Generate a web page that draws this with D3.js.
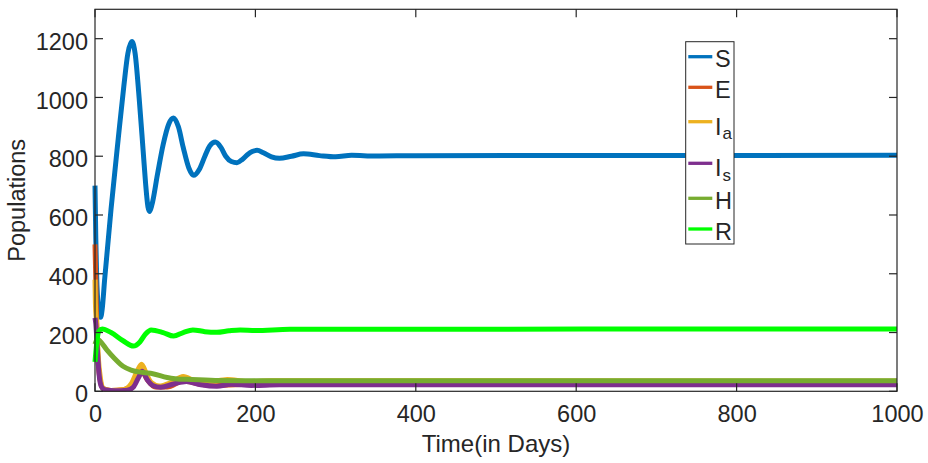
<!DOCTYPE html>
<html>
<head>
<meta charset="utf-8">
<script src="https://cdn.jsdelivr.net/npm/d3@7"></script>
<style>
  body { margin: 0; background: #fff; }
  text { font-family: "Liberation Sans", Arial, sans-serif; fill: #262626; }
</style>
</head>
<body>
<svg id="chart"></svg>
<script>
// time points (days) and values, one array per compartment
const tS = [0, 1, 2, 4, 7, 9, 12, 20, 29, 36, 41, 46, 50, 55, 60, 63, 66, 68, 71, 78, 85, 92, 98, 104, 110, 117, 123, 130, 137, 143, 150, 157, 163, 170, 177, 184, 190, 196, 202, 210, 220, 230, 245, 260, 280, 300, 320, 350, 400, 1000]
const vS = [700, 520, 400, 290, 252, 280, 380, 620, 860, 1040, 1150, 1190, 1150, 1000, 820, 710, 628, 612, 635, 740, 840, 910, 930, 900, 830, 760, 735, 755, 800, 835, 848, 830, 800, 782, 778, 790, 805, 816, 820, 812, 798, 793, 800, 808, 802, 798, 803, 801, 802, 803]

const tE = [0, 1, 2, 4, 7, 10, 20, 35, 45, 52, 58, 65, 75, 90, 110, 130, 150, 200, 1000]
const vE = [500, 380, 250, 100, 30, 10, 3, 5, 20, 50, 70, 40, 15, 15, 35, 25, 20, 25, 25]

const tIa = [0, 0.5, 2, 4, 7, 10, 20, 35, 45, 52, 58, 64, 70, 80, 95, 110, 125, 140, 165, 190, 220, 1000]
const vIa = [380, 300, 230, 120, 40, 10, 3, 5, 25, 65, 92, 60, 30, 18, 30, 50, 35, 30, 40, 33, 36, 35]

const tIs = [0, 1, 3, 5, 8, 12, 25, 40, 48, 54, 59, 65, 72, 82, 98, 114, 132, 152, 170, 195, 230, 1000]
const vIs = [250, 230, 140, 60, 16, 5, 2, 4, 15, 45, 68, 40, 20, 14, 25, 33, 22, 17, 24, 20, 22, 22]

const tH = [0, 3, 6, 15, 25, 35, 45, 60, 72, 90, 100, 120, 150, 200, 1000]
const vH = [160, 178, 172, 140, 110, 85, 72, 64, 60, 47, 43, 40, 37, 36, 36]

const tR = [0, 2, 5, 9, 20, 35, 48, 56, 63, 70, 85, 98, 110, 122, 137, 152, 167, 181, 200, 243, 1000]
const vR = [100, 160, 205, 212, 200, 172, 154, 168, 195, 209, 200, 188, 200, 209, 203, 201, 206, 209, 207, 211, 212]

const names = ['S', 'E', 'Ia', 'Is', 'H', 'R']
const colors = ['#0072BD', '#D95319', '#EDB120', '#7E2F8E', '#77AC30', '#00FF00']
const xTicks = [0, 200, 400, 600, 800, 1000]
const yTicks = [0, 200, 400, 600, 800, 1000, 1200]

const series = [
    { t: tS, v: vS },
    { t: tE, v: vE },
    { t: tIa, v: vIa },
    { t: tIs, v: vIs },
    { t: tH, v: vH },
    { t: tR, v: vR }
].map((s, i) => ({ ...s, name: names[i], color: colors[i], pts: s.t.map((d, j) => [d, s.v[j]]) }))

const width = 928
const height = 463
const margin = { top: 9.3, right: 31, bottom: 71.7, left: 95 }

const svg = d3.select('#chart').attr('width', width).attr('height', height)

const x = d3.scaleLinear().domain([0, 1000]).range([margin.left, width - margin.right])
const y = d3.scaleLinear().domain([0, 1300]).range([height - margin.bottom, margin.top])

svg.append('defs').append('clipPath').attr('id', 'clip')
    .append('rect')
    .attr('x', margin.left - 3).attr('y', margin.top)
    .attr('width', width - margin.left - margin.right + 3)
    .attr('height', height - margin.top - margin.bottom)

const line = d3.line()
    .x((d) => x(d[0]))
    .y((d) => y(d[1]))
    .curve(d3.curveMonotoneX)

svg.append('g').attr('clip-path', 'url(#clip)')
    .selectAll('path')
    .data(series)
    .join('path')
    .attr('fill', 'none')
    .attr('stroke', (d) => d.color)
    .attr('stroke-width', 5)
    .attr('stroke-linejoin', 'round')
    .attr('d', (d) => line(d.pts))

// axes box with inward ticks
const axisColor = '#262626'
const tickLen = 8
svg.append('rect')
    .attr('x', x(0)).attr('y', y(1300))
    .attr('width', x(1000) - x(0)).attr('height', y(0) - y(1300))
    .attr('fill', 'none').attr('stroke', axisColor).attr('stroke-width', 1.2)

const xAxis = d3.axisBottom(x).tickValues(xTicks).tickFormat(d3.format('d')).tickSize(0).tickPadding(0)
const gx = svg.append('g').attr('transform', `translate(0,${y(0)})`).call(xAxis)
gx.select('.domain').remove()
gx.selectAll('text').attr('font-size', 23.5).attr('dy', 30.7).attr('fill', axisColor)
    .style('font-family', '"Liberation Sans", Arial, sans-serif')

const yAxis = d3.axisLeft(y).tickValues(yTicks).tickFormat(d3.format('d')).tickSize(0).tickPadding(7)
const gy = svg.append('g').attr('transform', `translate(${x(0)},0)`).call(yAxis)
gy.select('.domain').remove()
gy.selectAll('text').attr('font-size', 23.5).attr('dy', '0.45em').attr('fill', axisColor)
    .style('font-family', '"Liberation Sans", Arial, sans-serif')

const ticksG = svg.append('g').attr('stroke', axisColor).attr('stroke-width', 1.2)
xTicks.forEach((t) => {
    ticksG.append('line').attr('x1', x(t)).attr('x2', x(t)).attr('y1', y(0)).attr('y2', y(0) - tickLen)
    ticksG.append('line').attr('x1', x(t)).attr('x2', x(t)).attr('y1', y(1300)).attr('y2', y(1300) + tickLen)
})
yTicks.forEach((t) => {
    ticksG.append('line').attr('x1', x(0)).attr('x2', x(0) + tickLen).attr('y1', y(t)).attr('y2', y(t))
    ticksG.append('line').attr('x1', x(1000)).attr('x2', x(1000) - tickLen).attr('y1', y(t)).attr('y2', y(t))
})

// axis titles
svg.append('text')
    .attr('x', (x(0) + x(1000)) / 2).attr('y', 451.7)
    .attr('text-anchor', 'middle').attr('font-size', 24)
    .text('Time(in Days)')

svg.append('text')
    .attr('transform', `translate(25,${(y(0) + y(1300)) / 2}) rotate(-90)`)
    .attr('text-anchor', 'middle').attr('font-size', 23.5)
    .text('Populations')

// legend
const legendY = [56.7, 87.3, 121.7, 163.3, 198.3, 229]
const lg = svg.append('g')
lg.append('rect')
    .attr('x', 685.7).attr('y', 41.7).attr('width', 48.3).attr('height', 202.3)
    .attr('fill', '#fff').attr('stroke', axisColor).attr('stroke-width', 1)

series.forEach((s, i) => {
    const ly = legendY[i]
    lg.append('line')
        .attr('x1', 688.3).attr('x2', 712.3).attr('y1', ly).attr('y2', ly)
        .attr('stroke', s.color).attr('stroke-width', 3.3)
    const txt = lg.append('text').attr('x', 715).attr('font-size', 23.5)
    if (s.name.length > 1) {
        txt.attr('y', ly + 13)
        txt.append('tspan').text(s.name[0])
        txt.append('tspan').attr('font-size', 17).attr('dy', 4.5).attr('dx', 1).text(s.name.slice(1))
    } else {
        txt.attr('y', ly + 10.5).text(s.name)
    }
})
</script>
</body>
</html>
